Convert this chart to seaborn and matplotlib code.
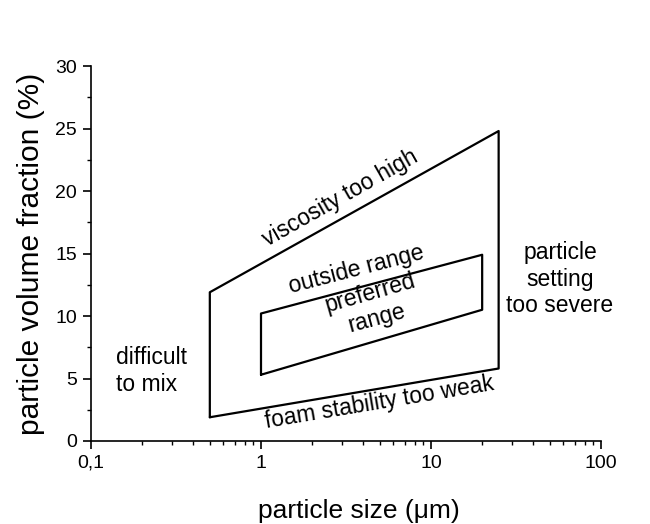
import matplotlib
matplotlib.use("Agg")
import matplotlib.pyplot as plt
import seaborn as sns
import pandas as pd
from matplotlib.ticker import LogLocator, FixedLocator, MultipleLocator, FuncFormatter

# Data
outer_size = [0.5, 0.5, 25, 25, 0.5]
outer_frac = [1.9, 11.9, 24.8, 5.8, 1.9]
inner_size = [1, 1, 20, 20, 1]
inner_frac = [5.3, 10.2, 14.9, 10.5, 5.3]
x_ticks = [0.1, 1, 10, 100]
x_tick_labels = ["0,1", "1", "10", "100"]
y_ticks = [0, 5, 10, 15, 20, 25, 30]

sns.set_theme(style="ticks")
plt.rcParams['font.family'] = ['Liberation Sans', 'DejaVu Sans']
plt.rcParams['text.color'] = 'black'
plt.rcParams['axes.labelcolor'] = 'black'

fig = plt.figure(figsize=(6.5, 5.24), dpi=100)
ax = fig.add_axes([0.14, 0.1584, 0.7846, 0.7156])

outer = pd.DataFrame({"size": outer_size, "frac": outer_frac})
inner = pd.DataFrame({"size": inner_size, "frac": inner_frac})
sns.lineplot(data=outer, x="size", y="frac", sort=False, estimator=None,
             color="black", lw=1.6, ax=ax)
sns.lineplot(data=inner, x="size", y="frac", sort=False, estimator=None,
             color="black", lw=1.6, ax=ax)

ax.set_xscale("log")
ax.set_xlim(0.1, 100)
ax.set_ylim(0, 30)
ax.xaxis.set_major_locator(FixedLocator(x_ticks))
ax.xaxis.set_major_formatter(FuncFormatter(lambda v, p: x_tick_labels[x_ticks.index(v)] if v in x_ticks else ""))
ax.xaxis.set_minor_locator(LogLocator(base=10, subs=range(2, 10)))
ax.xaxis.set_minor_formatter(FuncFormatter(lambda v, p: ""))
ax.yaxis.set_major_locator(FixedLocator(y_ticks))
ax.yaxis.set_minor_locator(MultipleLocator(2.5))

for s in ["top", "right"]:
    ax.spines[s].set_visible(False)
for s in ["left", "bottom"]:
    ax.spines[s].set_linewidth(1.2)
    ax.spines[s].set_color("black")

ax.tick_params(axis="both", which="major", direction="out", length=6, width=1.2,
               labelsize=14, colors="black", labelcolor="black", pad=4)
ax.tick_params(axis="both", which="minor", direction="out", length=3, width=1.0, colors="black")

ax.set_xlabel("particle size (\u03bcm)", fontsize=19)
ax.set_ylabel("particle volume fraction (%)", fontsize=21.5)
ax.xaxis.set_label_coords(0.525, -0.155)
ax.yaxis.set_label_coords(-0.09, 0.5)

fs = 16.5
ax.text(2.92, 19.4, "viscosity too high", rotation=29.5, fontsize=fs,
        ha="center", va="center", rotation_mode="anchor")
ax.text(3.66, 13.7, "outside range", rotation=14.5, fontsize=fs,
        ha="center", va="center", rotation_mode="anchor")
ax.text(4.38, 11.8, "preferred", rotation=16, fontsize=fs,
        ha="center", va="center", rotation_mode="anchor")
ax.text(4.79, 9.8, "range", rotation=15, fontsize=fs,
        ha="center", va="center", rotation_mode="anchor")
ax.text(5.0, 3.1, "foam stability too weak", rotation=9.5, fontsize=fs,
        ha="center", va="center", rotation_mode="anchor")
ax.text(0.140, 5.6, "difficult\nto mix", fontsize=fs, ha="left", va="center",
        linespacing=1.2)
ax.text(57.4, 12.95, "particle\nsetting\ntoo severe", fontsize=fs, ha="center",
        va="center", multialignment="center", linespacing=1.2)

fig.savefig("out.png", dpi=100)
